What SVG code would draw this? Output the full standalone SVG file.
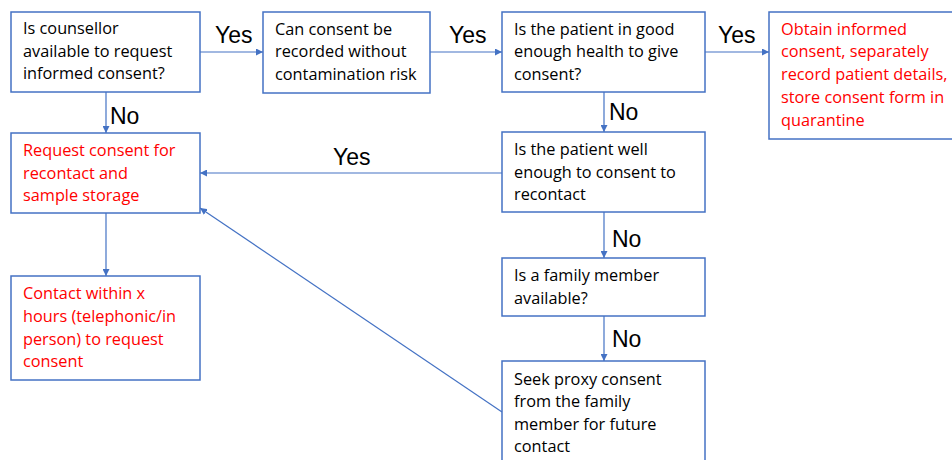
<svg xmlns="http://www.w3.org/2000/svg" width="952" height="460" viewBox="0 0 952 460">
<style>
.box{fill:#fff;stroke:#4472C4;stroke-width:1.5}
.t{font-family:"Open Sans","Liberation Sans",Arial,sans-serif;font-size:16.3px;fill:#000}
.r{fill:#FF0000}
.lbl{font-family:"Liberation Sans",Arial,sans-serif;font-size:23px;fill:#000}
.c{stroke:#4472C4;stroke-width:1.2;fill:none;marker-end:url(#ah)}
</style>
<defs>
<marker id="ah" viewBox="0 0 10 10" refX="10" refY="5" markerWidth="7" markerHeight="7" markerUnits="userSpaceOnUse" orient="auto"><path d="M0,0L10,5L0,10z" fill="#4472C4"/></marker>
</defs>
<rect width="952" height="460" fill="#fff"/>
<g id="connectors">
<line class="c" x1="200" y1="52" x2="263" y2="52"/>
<line class="c" x1="430" y1="52" x2="502" y2="52"/>
<line class="c" x1="705" y1="52" x2="769" y2="52"/>
<line class="c" x1="106" y1="92" x2="106" y2="133"/>
<line class="c" x1="604" y1="92" x2="604" y2="132"/>
<line class="c" x1="502" y1="173" x2="200" y2="173"/>
<line class="c" x1="106" y1="213" x2="106" y2="276"/>
<line class="c" x1="604" y1="212" x2="604" y2="258"/>
<line class="c" x1="604" y1="316" x2="604" y2="361"/>
<line class="c" x1="502" y1="412" x2="200" y2="208"/>
<text class="lbl" x="215" y="43">Yes</text>
<text class="lbl" x="449" y="43">Yes</text>
<text class="lbl" x="718" y="43">Yes</text>
<text class="lbl" x="333" y="165">Yes</text>
<text class="lbl" x="110" y="124">No</text>
<text class="lbl" x="609" y="120">No</text>
<text class="lbl" x="612" y="247">No</text>
<text class="lbl" x="612" y="347">No</text>
</g>
<g id="n1"><rect class="box" x="11" y="12" width="189" height="80"/>
<text class="t" x="23" y="34">Is counsellor</text><text class="t" x="23" y="57">available to request</text><text class="t" x="23" y="79">informed consent?</text></g>
<g id="n2"><rect class="box" x="263" y="12" width="167" height="81"/>
<text class="t" x="275" y="35">Can consent be</text><text class="t" x="275" y="57">recorded without</text><text class="t" x="275" y="80">contamination risk</text></g>
<g id="n3"><rect class="box" x="502" y="12" width="203" height="80"/>
<text class="t" x="514" y="35">Is the patient in good</text><text class="t" x="514" y="57">enough health to give</text><text class="t" x="514" y="80">consent?</text></g>
<g id="n4"><rect class="box" x="769" y="12" width="190" height="127"/>
<text class="t r" x="781" y="35">Obtain informed</text><text class="t r" x="781" y="57">consent, separately</text><text class="t r" x="781" y="80">record patient details,</text><text class="t r" x="781" y="103">store consent form in</text><text class="t r" x="781" y="126">quarantine</text></g>
<g id="n5"><rect class="box" x="11" y="133" width="189" height="80"/>
<text class="t r" x="23" y="156">Request consent for</text><text class="t r" x="23" y="179">recontact and</text><text class="t r" x="23" y="201">sample storage</text></g>
<g id="n6"><rect class="box" x="502" y="132" width="203" height="80"/>
<text class="t" x="514" y="155">Is the patient well</text><text class="t" x="514" y="178">enough to consent to</text><text class="t" x="514" y="200">recontact</text></g>
<g id="n7"><rect class="box" x="11" y="276" width="189" height="104"/>
<text class="t r" x="23" y="299">Contact within x</text><text class="t r" x="23" y="322">hours (telephonic/in</text><text class="t r" x="23" y="345">person) to request</text><text class="t r" x="23" y="367">consent</text></g>
<g id="n8"><rect class="box" x="502" y="258" width="203" height="58"/>
<text class="t" x="514" y="281">Is a family member</text><text class="t" x="514" y="304">available?</text></g>
<g id="n9"><rect class="box" x="502" y="361" width="203" height="110"/>
<text class="t" x="514" y="385">Seek proxy consent</text><text class="t" x="514" y="407">from the family</text><text class="t" x="514" y="430">member for future</text><text class="t" x="514" y="452">contact</text></g>
</svg>
